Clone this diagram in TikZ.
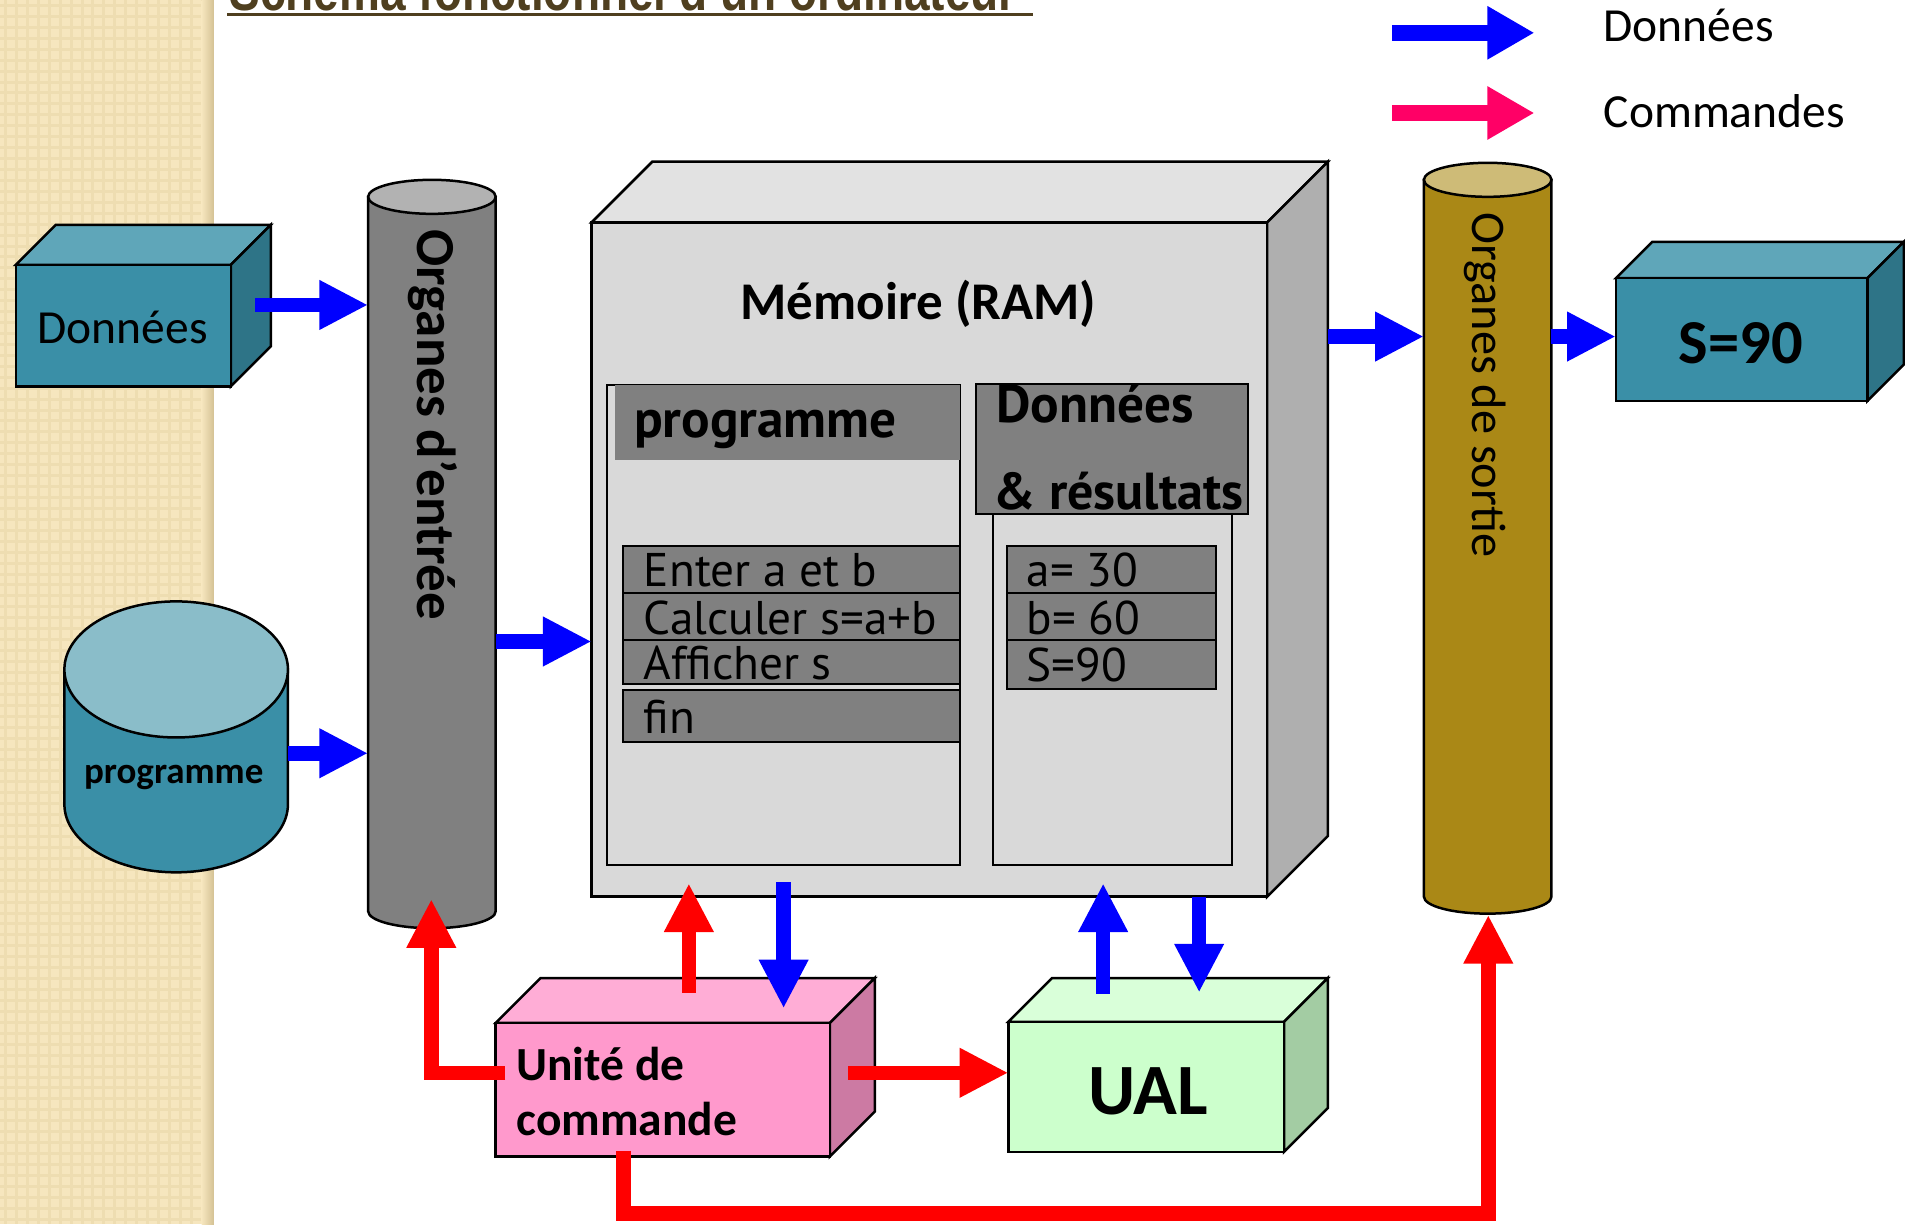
\documentclass[tikz,border=0pt]{standalone}
\usepackage{fontspec}
\setmainfont{Carlito}
\newfontfamily\gillfont{PT Sans}
\newfontfamily\titlefont[FakeStretch=0.8]{Liberation Sans}
\usetikzlibrary{arrows.meta,fit}

\definecolor{stripbg}{HTML}{F6E6BE}
\definecolor{stripln}{HTML}{EEDDB1}
\definecolor{stripsh}{HTML}{D4C294}
\definecolor{titlec}{HTML}{4F3F1F}
\definecolor{dblue}{HTML}{0000FF}
\definecolor{cred}{HTML}{FF0000}
\definecolor{cpink}{HTML}{FF0066}
\definecolor{tealF}{HTML}{3A8FA7}
\definecolor{tealT}{HTML}{5FA6B9}
\definecolor{tealS}{HTML}{2E7487}
\definecolor{diskT}{HTML}{8ABDC9}
\definecolor{memF}{HTML}{D9D9D9}
\definecolor{memT}{HTML}{E2E2E2}
\definecolor{memS}{HTML}{AFAFAF}
\definecolor{panelG}{HTML}{808080}
\definecolor{entB}{HTML}{808080}
\definecolor{entT}{HTML}{B2B2B2}
\definecolor{sorB}{HTML}{AA8816}
\definecolor{sorT}{HTML}{CEBB77}
\definecolor{udcF}{HTML}{FF99CC}
\definecolor{udcT}{HTML}{FFADD6}
\definecolor{udcS}{HTML}{CC7AA3}
\definecolor{ualF}{HTML}{CCFFCC}
\definecolor{ualT}{HTML}{D9FFD9}
\definecolor{ualS}{HTML}{A3CCA3}

\newcommand{\setfs}[1]{\fontsize{#1}{#1}\selectfont}

% 3D box: x1,y1,x2,y2 (front face), depth, front, top, side colours
\newcommand{\mycube}[8]{%
  \draw[boxline, fill=#7] (#1,#2) -- (#1+#5,#2-#5) -- (#3+#5,#2-#5) -- (#3,#2) -- cycle;
  \draw[boxline, fill=#8] (#3,#2) -- (#3+#5,#2-#5) -- (#3+#5,#4-#5) -- (#3,#4) -- cycle;
  \draw[boxline, fill=#6] (#1,#2) rectangle (#3,#4);
}
% cylinder: x1,x2,ytop,ybottom,ry, body colour, top colour
\newcommand{\mycyl}[7]{%
  \draw[boxline, fill=#6] (#1,#3) -- (#1,#4) arc[start angle=180, end angle=0, x radius={(#2-#1)/2}, y radius=#5] -- (#2,#3) -- cycle;
  \draw[boxline, fill=#7] ({(#1+#2)/2},#3) ellipse [x radius={(#2-#1)/2}, y radius=#5];
}

\begin{document}
\begin{tikzpicture}[x=0.486pt, y=-0.486pt,
  boxline/.style={draw=black, line width=1pt, line join=miter},
  thinline/.style={draw=black, line width=0.8pt},
  lbl/.style={inner sep=0pt, outer sep=0pt},
  flow/.style={line width=5.8pt, -{Triangle[length=19.5pt, width=18.5pt]}},
  legflow/.style={line width=6.6pt, -{Triangle[length=18.8pt, width=20pt]}},
  blueflow/.style={flow, draw=dblue},
  redflow/.style={flow, draw=cred},
  shapefit/.style={inner sep=0pt, outer sep=0pt},
  gillreg/.style={lbl, anchor=base west, font=\gillfont\setfs{18.9}},
  gillbold/.style={lbl, anchor=base west, font=\gillfont\bfseries\setfs{21.3}},
]
\useasboundingbox (0,0) rectangle (1568,1007.5);

% ---- textured left strip ----
\fill[stripbg] (0,0) rectangle (176,1007.5);
\foreach \i in {4.5,13.5,...,170} { \draw[stripln, line width=1.2pt] (\i,0) -- (\i,1007.5); }
\foreach \j in {4.5,13.5,...,1007} { \draw[stripln, line width=1.2pt] (0,\j) -- (168,\j); }
\shade[left color=stripbg, right color=stripsh] (166,0) rectangle (176,1007.5);

% ---- title (cut at the top) ----
\begin{scope}
  \clip (0,0) rectangle (1568,1007.5);
  \node[lbl, anchor=base west, text=titlec, font=\titlefont\bfseries\setfs{23}] (title) at (189,8.5) {Schéma fonctionnel d’un ordinateur};
\end{scope}
\draw[titlec, line width=1.4pt] (187,12) -- (850,12);

% ---- legend ----
\node[lbl, anchor=base west, font=\setfs{19}] (legD) at (1320,34) {Données};
\node[lbl, anchor=base west, font=\setfs{19}] (legC) at (1320,105) {Commandes};
\coordinate (lb1) at (1146,27);
\coordinate (lb2) at (1263,27);
\coordinate (lr1) at (1146,93);
\coordinate (lr2) at (1263,93);
\draw[legflow, draw=dblue] (lb1) -- (lb2);
\draw[legflow, draw=cpink] (lr1) -- (lr2);

% ---- Données box ----
\mycube{13}{218}{190}{318}{33}{tealF}{tealT}{tealS}
\node[shapefit, fit={(13,185) (223,318)}] (donnees) {};
\node[lbl, anchor=base, font=\setfs{19}] (donT) at (101,283) {Données};

% ---- programme disk ----
\mycyl{53}{237}{551}{662}{56}{tealF}{diskT}
\node[shapefit, fit={(53,495) (237,718)}] (disk) {};
\node[lbl, anchor=base, font=\bfseries\setfs{14.8}] (diskT) at (143,645) {programme};

% ---- Organes d'entrée ----
\mycyl{303}{408}{162}{750}{14}{entB}{entT}
\node[shapefit, fit={(303,148) (408,764)}] (entree) {};
\node[lbl, rotate=-90, anchor=west, font=\bfseries\setfs{22}] (entT) at (356,189) {Organes d’entrée};

% ---- Mémoire ----
\mycube{487}{183}{1043}{738}{50}{memF}{memT}{memS}
\node[shapefit, fit={(487,133) (1093,738)}] (mem) {};
\node[lbl, anchor=base, font=\bfseries\setfs{21.2}] (memT) at (756,263) {Mémoire (RAM)};

% program panel
\draw[thinline, fill=memF] (500,317) rectangle (790,712);
\fill[panelG] (506,317) rectangle (790,379);
\node[gillbold] (progH) at (522,360) {programme};
\draw[thinline, fill=panelG] (513,449) rectangle (790,488);
\draw[thinline, fill=panelG] (513,488) rectangle (790,527);
\draw[thinline, fill=panelG] (513,527) rectangle (790,563);
\draw[thinline, fill=panelG] (513,568) rectangle (790,611);
\node[gillreg] (p1) at (530,483) {Enter a et b};
\node[gillreg] (p2) at (530,522) {Calculer s=a+b};
\node[gillreg] (p3) at (530,559) {Afficher s};
\node[gillreg] (p4) at (530,604) {fin};

% data panel
\draw[thinline, fill=memF] (817,423) rectangle (1014,712);
\draw[thinline, fill=panelG] (803,316) rectangle (1027,423);
\node[gillbold] (datH1) at (820,348) {Données};
\node[gillbold, font=\gillfont\bfseries\setfs{20.8}] (datH2) at (818,419) {\& résultats};
\draw[thinline, fill=panelG] (829,449) rectangle (1001,488);
\draw[thinline, fill=panelG] (829,488) rectangle (1001,527);
\draw[thinline, fill=panelG] (829,527) rectangle (1001,567);
\node[gillreg] (d1) at (845,483) {a= 30};
\node[gillreg] (d2) at (845,522) {b= 60};
\node[gillreg] (d3) at (845,561) {S=90};

% ---- Organes de sortie ----
\mycyl{1172}{1277}{148}{738}{14}{sorB}{sorT}
\node[shapefit, fit={(1172,134) (1277,752)}] (sortie) {};
\node[lbl, rotate=-90, anchor=west, font=\setfs{19.3}] (sorT) at (1222,175) {Organes de sortie};

% ---- S=90 ----
\mycube{1330}{229}{1537}{330}{30}{tealF}{tealT}{tealS}
\node[shapefit, fit={(1330,199) (1567,330)}] (sres) {};
\node[lbl, anchor=base, font=\bfseries\setfs{25}] (sresT) at (1433,299) {S=90};

% ---- Unité de commande ----
\mycube{408}{842}{683}{952}{37}{udcF}{udcT}{udcS}
\node[shapefit, fit={(408,805) (720,952)}] (udc) {};
\node[lbl, anchor=base west, font=\bfseries\setfs{19}] (udc1) at (425,889) {Unité de};
\node[lbl, anchor=base west, font=\bfseries\setfs{19}] (udc2) at (425,935) {commande};

% ---- UAL ----
\mycube{830}{841}{1057}{948}{36}{ualF}{ualT}{ualS}
\node[shapefit, fit={(830,805) (1093,948)}] (ual) {};
\node[lbl, anchor=base, font=\bfseries\setfs{28.9}] (ualT) at (945,917) {UAL};

% ---- data arrows ----
\coordinate (a1) at (210,251);
\draw[blueflow] (a1) -- (a1 -| entree.west);
\coordinate (a2) at (237,620);
\draw[blueflow] (a2) -- (a2 -| entree.west);
\coordinate (a3) at (0,528);
\draw[blueflow] (a3 -| entree.east) -- (a3 -| mem.west);
\coordinate (a4) at (0,277);
\draw[blueflow] (a4 -| mem.east) -- (a4 -| sortie.west);
\draw[blueflow] (a4 -| sortie.east) -- (a4 -| sres.west);

\coordinate (v2s) at (645,726);
\coordinate (v2e) at (645,830);
\draw[blueflow] (v2s) -- (v2e);
\coordinate (v3s) at (908,818);
\coordinate (v3e) at (908,727);
\draw[blueflow] (v3s) -- (v3e);
\coordinate (v4e) at (987,817);
\draw[blueflow] (v4e |- mem.south) -- (v4e);

% ---- command arrows ----
\coordinate (v1s) at (567,817);
\coordinate (v1e) at (567,727);
\draw[redflow] (v1s) -- (v1e);
\coordinate (h1) at (698,883);
\draw[redflow] (h1) -- (h1 -| ual.west);
\coordinate (L1) at (416,883);
\coordinate (L2) at (355,740);
\draw[redflow] (L1) -| (L2);
\coordinate (B1) at (513,947);
\coordinate (B2) at (1225,999);
\coordinate (B3) at (1225,753);
\draw[redflow] (B1) |- (B2) -- (B3);
\end{tikzpicture}
\end{document}
